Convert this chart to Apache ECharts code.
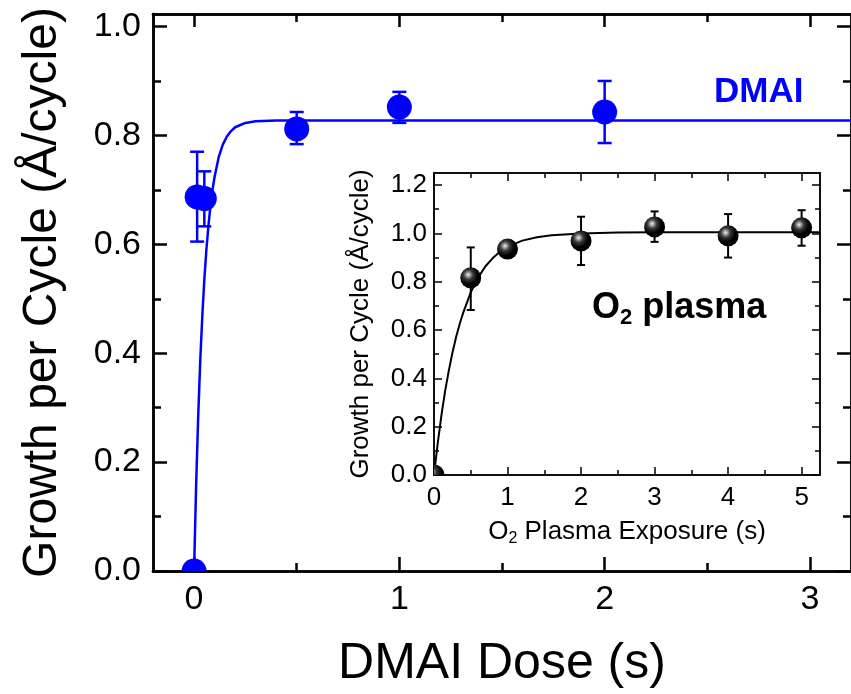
<!DOCTYPE html>
<html lang="en">
<head>
<meta charset="UTF-8">
<title>GPC vs dose</title>
<script src="https://cdn.jsdelivr.net/npm/echarts@6/dist/echarts.min.js"></script>
<style>
  html, body { margin: 0; padding: 0; background: #fff; }
  #chart { width: 851px; height: 694px; }
</style>
</head>
<body>
<div id="chart"></div>
<script>
// main panel - DMAI dose
var dmaiX    = [0, 0.015, 0.05, 0.5, 1, 2];
var dmaiY    = [0, 0.687, 0.684, 0.812, 0.852, 0.843];
var dmaiLow  = [null, 0.605, 0.633, 0.784, 0.823, 0.786];
var dmaiHigh = [null, 0.770, 0.734, 0.843, 0.880, 0.900];
// fitted curve
var dmaiFitX = [0, 0.01, 0.02, 0.03, 0.04, 0.05, 0.06, 0.07, 0.08, 0.09, 0.1, 0.12, 0.14, 0.16, 0.18, 0.2, 0.25, 0.3, 0.4, 0.5, 1, 2, 3, 3.2];
var dmaiFitY = [0, 0.156, 0.282, 0.385, 0.467, 0.535, 0.59, 0.634, 0.671, 0.70, 0.724, 0.76, 0.783, 0.798, 0.808, 0.815, 0.823, 0.826, 0.8275, 0.8275, 0.8275, 0.8275, 0.8275, 0.8275];

// inset - O2 plasma exposure
var o2X    = [0, 0.5, 1, 2, 3, 4, 5];
var o2Y    = [0, 0.816, 0.935, 0.969, 1.027, 0.99, 1.023];
var o2Low  = [null, 0.683, 0.915, 0.869, 0.965, 0.900, 0.949];
var o2High = [null, 0.942, 0.955, 1.069, 1.091, 1.080, 1.096];
var o2FitX = [0, 0.05, 0.1, 0.15, 0.2, 0.25, 0.3, 0.35, 0.4, 0.5, 0.6, 0.7, 0.8, 0.9, 1.0, 1.2, 1.4, 1.6, 2, 2.5, 3, 4, 5, 5.25];
var o2FitY = [0, 0.13, 0.245, 0.345, 0.43, 0.505, 0.57, 0.626, 0.674, 0.756, 0.817, 0.864, 0.898, 0.925, 0.944, 0.97, 0.984, 0.992, 1.0, 1.004, 1.005, 1.005, 1.005, 1.005];

// tick positions
var mainXTicks  = [0, 1, 2, 3];
var mainXMinor  = [0.5, 1.5, 2.5];
var mainYTicks  = [0, 0.2, 0.4, 0.6, 0.8, 1.0];
var mainYMinor  = [0.1, 0.3, 0.5, 0.7, 0.9];
var insetXTicks = [0, 1, 2, 3, 4, 5];
var insetXMinor = [0.5, 1.5, 2.5, 3.5, 4.5];
var insetYTicks = [0, 0.2, 0.4, 0.6, 0.8, 1.0, 1.2];
var insetYMinor = [0.1, 0.3, 0.5, 0.7, 0.9, 1.1];

var FONT = 'Liberation Sans, Arial, sans-serif';
var BLUE = '#0000ff';

function zip(a, b) {
    return a.map(function (v, i) { return [v, b[i]]; });
}
function errData(xs, lo, hi) {
    var out = [];
    xs.forEach(function (x, i) {
        if (lo[i] != null) out.push([x, lo[i], hi[i]]);
    });
    return out;
}
function errRender(cap, color, lw) {
    return function (params, api) {
        var x = api.value(0);
        var a = api.coord([x, api.value(1)]);
        var b = api.coord([x, api.value(2)]);
        var st = { stroke: color, lineWidth: lw };
        return {
            type: 'group',
            children: [
                { type: 'line', shape: { x1: a[0], y1: a[1], x2: b[0], y2: b[1] }, style: st },
                { type: 'line', shape: { x1: a[0] - cap, y1: a[1], x2: a[0] + cap, y2: a[1] }, style: st },
                { type: 'line', shape: { x1: b[0] - cap, y1: b[1], x2: b[0] + cap, y2: b[1] }, style: st }
            ]
        };
    };
}
// markers as custom circles so that they get clipped at the frame
function dotRender(r, fill) {
    return function (params, api) {
        var p = api.coord([api.value(0), api.value(1)]);
        return { type: 'circle', shape: { cx: p[0], cy: p[1], r: r }, style: { fill: fill } };
    };
}

// one axis = one set of inward ticks; labels only where asked
function axis(grid, pos, min, max, ticks, len, lw, label) {
    var a = {
        type: 'value', gridIndex: grid, position: pos, min: min, max: max,
        axisLine: { show: true, onZero: false, lineStyle: { color: '#000', width: lw } },
        axisTick: { show: true, inside: true, length: len, customValues: ticks,
                    lineStyle: { color: '#000', width: lw } },
        axisLabel: { show: false },
        splitLine: { show: false }
    };
    if (label) {
        a.axisLabel = {
            show: true, customValues: ticks, color: '#000',
            fontFamily: FONT, fontSize: label.size, margin: label.margin,
            formatter: label.fmt
        };
        if (label.name) {
            a.name = label.name;
            a.nameLocation = 'middle';
            a.nameGap = label.gap;
            a.nameTextStyle = { fontFamily: FONT, fontSize: label.nameSize, color: '#000', rich: label.rich };
        }
    }
    return a;
}

var intFmt = function (v) { return String(Math.round(v)); };
var decFmt = function (v) { return v.toFixed(1); };

var sphere = {
    type: 'radial', x: 0.38, y: 0.35, r: 0.65,
    colorStops: [
        { offset: 0, color: '#f4f4f4' },
        { offset: 0.12, color: '#b0b0b0' },
        { offset: 0.35, color: '#3a3a3a' },
        { offset: 0.7, color: '#000' },
        { offset: 1, color: '#000' }
    ]
};

var chart = echarts.init(document.getElementById('chart'));
chart.setOption({
    backgroundColor: '#fff',
    animation: false,
    grid: [
        { left: 153, top: 14, width: 704, height: 558 },
        { left: 434, top: 173, width: 386, height: 302 }
    ],
    xAxis: [
        axis(0, 'bottom', -0.2, 3.2, mainXTicks, 14, 2.5,
             { size: 34, margin: 12, fmt: intFmt, name: 'DMAI Dose (s)', gap: 68, nameSize: 50 }),
        axis(0, 'bottom', -0.2, 3.2, mainXMinor, 8, 2.5),
        axis(0, 'top', -0.2, 3.2, mainXTicks, 13, 2.5),
        axis(0, 'top', -0.2, 3.2, mainXMinor, 8, 2.5),
        axis(1, 'bottom', 0, 5.25, insetXTicks, 8, 1.5,
             { size: 26, margin: 10, fmt: intFmt, name: '{n|O}{s|2}{n| Plasma Exposure (s)}', gap: 42, nameSize: 26,
               rich: { n: { fontFamily: FONT, fontSize: 26, color: '#000' },
                       s: { fontFamily: FONT, fontSize: 16, color: '#000', verticalAlign: 'bottom', padding: [14, 0, 0, 0] } } }),
        axis(1, 'bottom', 0, 5.25, insetXMinor, 5, 1.5),
        axis(1, 'top', 0, 5.25, insetXTicks, 8, 1.5),
        axis(1, 'top', 0, 5.25, insetXMinor, 5, 1.5)
    ],
    yAxis: [
        axis(0, 'left', 0, 1.023, mainYTicks, 14, 2.5,
             { size: 34, margin: 12, fmt: decFmt, name: 'Growth per Cycle (Å/cycle)', gap: 86, nameSize: 48 }),
        axis(0, 'left', 0, 1.023, mainYMinor, 8, 2.5),
        axis(0, 'right', 0, 1.023, mainYTicks, 14, 2.5),
        axis(0, 'right', 0, 1.023, mainYMinor, 8, 2.5),
        axis(1, 'left', 0, 1.25, insetYTicks, 8, 1.5,
             { size: 26, margin: 7, fmt: decFmt, name: 'Growth per Cycle (Å/cycle)', gap: 60, nameSize: 26 }),
        axis(1, 'left', 0, 1.25, insetYMinor, 5, 1.5),
        axis(1, 'right', 0, 1.25, insetYTicks, 8, 1.5),
        axis(1, 'right', 0, 1.25, insetYMinor, 5, 1.5)
    ],
    series: [
        {
            type: 'line', xAxisIndex: 0, yAxisIndex: 0,
            data: zip(dmaiFitX, dmaiFitY), smooth: false,
            showSymbol: false, lineStyle: { color: BLUE, width: 2.5 }, z: 2
        },
        {
            type: 'custom', xAxisIndex: 0, yAxisIndex: 0, clip: true,
            data: errData(dmaiX, dmaiLow, dmaiHigh),
            renderItem: errRender(7, BLUE, 2.5), z: 3
        },
        {
            type: 'custom', xAxisIndex: 0, yAxisIndex: 0, clip: true,
            data: zip(dmaiX, dmaiY),
            renderItem: dotRender(12.5, BLUE), z: 4
        },
        {
            type: 'line', xAxisIndex: 4, yAxisIndex: 4,
            data: zip(o2FitX, o2FitY), smooth: false,
            showSymbol: false, lineStyle: { color: '#000', width: 2 }, z: 2
        },
        {
            type: 'custom', xAxisIndex: 4, yAxisIndex: 4, clip: true,
            data: errData(o2X, o2Low, o2High),
            renderItem: errRender(4, '#000', 2), z: 3
        },
        {
            type: 'custom', xAxisIndex: 4, yAxisIndex: 4, clip: true,
            data: zip(o2X, o2Y),
            renderItem: dotRender(10.5, sphere), z: 4
        }
    ],
    graphic: [
        {
            type: 'text', left: 714, top: 75,
            style: { text: 'DMAI', fill: BLUE, font: 'bold 35px ' + FONT }
        },
        {
            type: 'text', left: 592, top: 290,
            style: {
                text: '{b|O}{s|2}{b| plasma}',
                rich: {
                    b: { fontFamily: FONT, fontWeight: 'bold', fontSize: 36, fill: '#000' },
                    s: { fontFamily: FONT, fontWeight: 'bold', fontSize: 22, fill: '#000', padding: [20, 0, 0, 0] }
                }
            }
        }
    ]
});
</script>
</body>
</html>
